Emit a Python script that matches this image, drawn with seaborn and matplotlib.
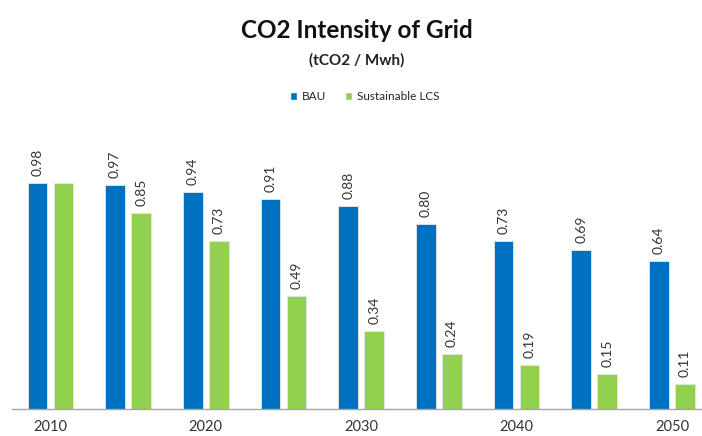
import pandas as pd
import matplotlib.pyplot as plt
import seaborn as sns
from matplotlib.patches import Patch

# values
years = ['2010', '2015', '2020', '2025', '2030', '2035', '2040', '2045', '2050']
tick_labels = ['2010', '', '2020', '', '2030', '', '2040', '', '2050']
bau = [0.98, 0.97, 0.94, 0.91, 0.88, 0.80, 0.73, 0.69, 0.64]
lcs = [0.98, 0.85, 0.73, 0.49, 0.34, 0.24, 0.19, 0.15, 0.11]
bau_labels = ['0.98', '0.97', '0.94', '0.91', '0.88', '0.80', '0.73', '0.69', '0.64']
lcs_labels = ['', '0.85', '0.73', '0.49', '0.34', '0.24', '0.19', '0.15', '0.11']

scenarios = ['BAU', 'Sustainable LCS']
colors = ['#0070C0', '#92D050']

df = pd.DataFrame({
    'Year': years * 2,
    'Scenario': ['BAU'] * len(years) + ['Sustainable LCS'] * len(years),
    'Value': bau + lcs,
})

sns.set_style('white')
plt.rcParams['font.family'] = ['Lato', 'DejaVu Sans']

fig = plt.figure(figsize=(7.02, 4.36), dpi=100)
ax = fig.add_axes([0.0165, 0.062, 0.996, 0.635])

sns.barplot(data=df, x='Year', y='Value', hue='Scenario', order=years,
            hue_order=scenarios, palette=colors, saturation=1, width=0.67,
            gap=0.25, edgecolor='#e8e8e8', linewidth=0.6, legend=False, ax=ax)

for cont, labs in zip(ax.containers, [bau_labels, lcs_labels]):
    ax.bar_label(cont, labels=labs, rotation=90, padding=5,
                 fontsize=10, color='#333333')

ax.set_xlim(-0.5, 8.5)
ax.set_ylim(0, 1.2)
ax.set_xticks(range(len(years)))
ax.set_xticklabels(tick_labels, fontsize=10.5, color='#333333')
ax.tick_params(axis='x', length=0, pad=8)
ax.set_yticks([])
ax.set_xlabel('')
ax.set_ylabel('')
for side in ['top', 'left', 'right']:
    ax.spines[side].set_visible(False)
ax.spines['bottom'].set_color('#a6a6a6')
ax.spines['bottom'].set_linewidth(1)

fig.text(0.508, 0.93, 'CO2 Intensity of Grid', ha='center', va='center',
         fontsize=17.5, fontweight='bold', color='#111111')
fig.text(0.508, 0.862, '(tCO2 / Mwh)', ha='center', va='center',
         fontsize=11, fontweight='bold', color='#222222')

handles = [Patch(facecolor=c, label=s) for c, s in zip(colors, scenarios)]
fig.legend(handles=handles, loc='center', bbox_to_anchor=(0.52, 0.778),
           ncol=2, frameon=False, fontsize=8.5, handlelength=0.6,
           handleheight=0.6, handletextpad=0.4, columnspacing=1.6)

fig.savefig('out.png', dpi=100)
